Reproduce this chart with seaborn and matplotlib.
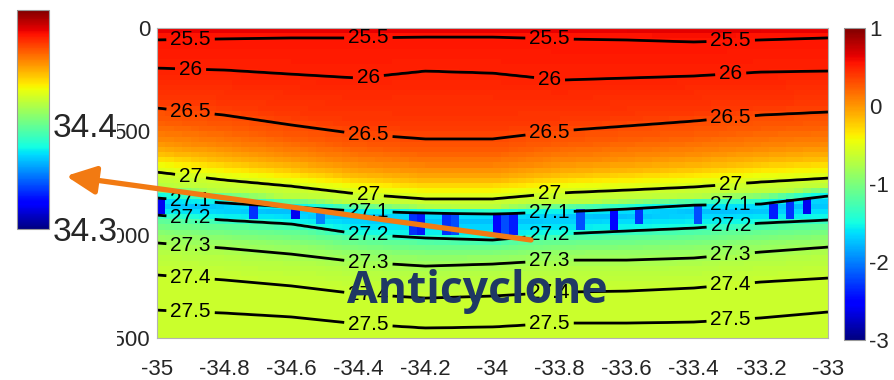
import numpy as np
import pandas as pd
import matplotlib
matplotlib.use("Agg")
import matplotlib.pyplot as plt
from matplotlib.patches import Rectangle
import seaborn as sns

# ---------------- data ----------------
lon_nodes = [-35.0, -34.8, -34.6, -34.4, -34.2, -34.0, -33.8, -33.6, -33.4, -33.2, -33.0]
iso_levels = [25.5, 26.0, 26.5, 27.0, 27.1, 27.2, 27.3, 27.4, 27.5]
depth_25_5 = [58, 53, 48, 48, 44, 44, 53, 58, 68, 58, 48]
depth_26_0 = [194, 203, 223, 242, 208, 218, 252, 242, 232, 213, 208]
depth_26_5 = [387, 421, 469, 513, 537, 537, 498, 474, 450, 421, 406]
depth_27_0 = [697, 735, 765, 803, 827, 827, 798, 784, 769, 745, 726]
depth_27_1 = [823, 847, 866, 886, 895, 900, 890, 876, 857, 852, 813]
depth_27_2 = [905, 929, 948, 997, 1016, 1026, 997, 982, 968, 944, 929]
depth_27_3 = [1040, 1065, 1094, 1132, 1152, 1142, 1123, 1123, 1113, 1084, 1060]
depth_27_4 = [1195, 1219, 1248, 1287, 1307, 1297, 1278, 1273, 1258, 1229, 1210]
depth_27_5 = [1365, 1379, 1398, 1432, 1452, 1447, 1428, 1428, 1423, 1403, 1374]
iso_depths = [depth_25_5, depth_26_0, depth_26_5, depth_27_0, depth_27_1,
              depth_27_2, depth_27_3, depth_27_4, depth_27_5]
sigma_surface = 25.35
sigma_bottom = 27.56

# salinity anomaly as read along the density axis
anom_sigma = [25.3, 25.45, 26.0, 26.4, 26.6, 26.75, 26.85, 26.93, 27.0, 27.05,
              27.07, 27.09, 27.13, 27.19, 27.22, 27.27, 27.33, 27.4, 27.56]
anom_value = [0.75, 0.55, 0.5, 0.4, 0.25, 0.05, -0.15, -0.4, -0.58, -0.7,
              -1.1, -1.5, -1.75, -1.5, -1.15, -0.9, -0.72, -0.62, -0.62]

# dark-blue patches inside the low-salinity band
spot_lons = [-34.975, -34.72, -34.595, -34.51, -34.25, -34.20, -34.15, -34.10, -33.99,
             -33.96, -33.93, -33.73, -33.65, -33.565, -33.39, -33.165, -33.12, -33.06]
spot_vals = [-2.6, -2.3, -2.6, -2.0, -2.3, -2.4, -2.3, -2.2, -2.5,
             -2.2, -2.4, -2.2, -2.5, -2.3, -2.2, -2.4, -2.3, -2.6]

label_lons = [-34.9, -34.37, -33.83, -33.29]

xtick_vals = [-35, -34.8, -34.6, -34.4, -34.2, -34, -33.8, -33.6, -33.4, -33.2, -33]
xtick_labels = ["-35", "-34.8", "-34.6", "-34.4", "-34.2", "-34", "-33.8", "-33.6", "-33.4", "-33.2", "-33"]
ytick_vals = [0, 500, 1000, 1500]
ytick_labels = ["0", "500", "1000", "1500"]
cbar_ticks = [-3, -2, -1, 0, 1]
cbar_labels = ["-3", "-2", "-1", "0", "1"]
sal_ticks = [34.3, 34.4]
sal_labels = ["34.3", "34.4"]
sal_range = [34.3, 34.51]

# ---------------- grids ----------------
dlon, ddep = 0.025, 25.0
cell_lon = -35 + dlon / 2 + dlon * np.arange(80)
cell_dep = ddep / 2 + ddep * np.arange(60)


def column_sigma(lon, depth):
    d_nodes = [0.0] + [np.interp(lon, lon_nodes, dl) for dl in iso_depths] + [1500.0]
    s_nodes = [sigma_surface] + iso_levels + [sigma_bottom]
    return np.interp(depth, d_nodes, s_nodes)


sig_cells = np.array([column_sigma(lo, cell_dep) for lo in cell_lon]).T
anom = np.interp(sig_cells, anom_sigma, anom_value)
for lo, v in zip(spot_lons, spot_vals):
    i = int((lo + 35) / dlon)
    col = sig_cells[:, i]
    mask = (col >= 27.1) & (col <= 27.18)
    if not mask.any():
        mask[np.argmin(np.abs(col - 27.13))] = True
    anom[mask, i] = v

df = pd.DataFrame(anom, index=cell_dep, columns=np.round(cell_lon, 4))

fine_lon = np.linspace(-35, -33, 201)
fine_dep = np.linspace(0, 1500, 301)
sig_fine = np.array([column_sigma(lo, fine_dep) for lo in fine_lon]).T

# ---------------- figure ----------------
sns.set_theme(style="white")
plt.rcParams["font.family"] = ["Liberation Sans", "DejaVu Sans"]

W, H = 895, 380
fig = plt.figure(figsize=(W / 100, H / 100), dpi=100)
fig.patch.set_facecolor("white")

def px_axes(x0, y0, x1, y1, **kw):
    return fig.add_axes([x0 / W, 1 - y1 / H, (x1 - x0) / W, (y1 - y0) / H], **kw)

ax = px_axes(157, 28, 828, 338)
cax = px_axes(844, 28, 865, 340)

sns.heatmap(df, ax=ax, cmap="jet", vmin=-3, vmax=1, cbar_ax=cax,
            xticklabels=False, yticklabels=False)

to_u = lambda lon: (np.asarray(lon) + 35) / dlon
to_v = lambda dep: np.asarray(dep) / ddep

U, V = np.meshgrid(to_u(fine_lon), to_v(fine_dep))
cs = ax.contour(U, V, sig_fine, levels=iso_levels, colors="black", linewidths=2.0)
positions = []
for lev, dl in zip(iso_levels, iso_depths):
    for lo in label_lons:
        positions.append((float(to_u(lo)), float(to_v(np.interp(lo, lon_nodes, dl)))))
labels = ax.clabel(cs, manual=positions, inline=True, inline_spacing=4,
                   fontsize=15, fmt=lambda v: f"{v:g}", colors="black")
for t in labels:
    t.set_rotation(0)

ax.set_xticks(to_u(xtick_vals))
ax.set_xticklabels(xtick_labels, fontsize=16, rotation=0)
ax.set_yticks(to_v(ytick_vals))
ax.set_yticklabels(ytick_labels, fontsize=16, rotation=0)
ax.tick_params(axis="x", length=0, pad=15)
ax.tick_params(axis="y", length=0, pad=5)
ax.set_xlabel("")
ax.set_ylabel("")
for s in ax.spines.values():
    s.set_visible(True)
    s.set_color("0.7")
    s.set_linewidth(0.8)

cb = ax.collections[0].colorbar
cb.set_ticks(cbar_ticks)
cb.set_ticklabels(cbar_labels)
cax.tick_params(direction="in", length=2, width=0.6, color="0.4", left=True, right=True,
                labelsize=16, pad=3)
cb.outline.set_edgecolor("0.6")
cb.outline.set_linewidth(0.8)

# white backing of the inset colour scale that hides part of the depth labels
cover = Rectangle((0, 0), 117 / W, 1, transform=fig.transFigure,
                  facecolor="white", edgecolor="none", zorder=5)
fig.add_artist(cover)

lcax = px_axes(17, 10, 49, 229, zorder=10)
sm = plt.cm.ScalarMappable(norm=plt.Normalize(*sal_range), cmap="jet")
lcb = fig.colorbar(sm, cax=lcax, ticks=sal_ticks)
lcb.ax.set_yticklabels(sal_labels, fontsize=24)
lcax.tick_params(length=0, pad=3)
lcb.outline.set_edgecolor("0.6")
lcb.outline.set_linewidth(0.8)

ov = fig.add_axes([0, 0, 1, 1], zorder=20)
ov.set_xlim(0, W)
ov.set_ylim(H, 0)
ov.axis("off")
ov.patch.set_alpha(0)
ov.annotate("", xy=(66, 176), xytext=(531, 240),
            arrowprops=dict(arrowstyle="-|>,head_length=1.8,head_width=0.85",
                            color="#F27A12", lw=3.8, shrinkA=0, shrinkB=0,
                            mutation_scale=10))
ov.text(347, 303, "Anticyclone", fontsize=32, fontweight="bold",
        family=["Open Sans", "DejaVu Sans"], color="#1F3864", va="baseline", ha="left")

fig.savefig("out.png", dpi=100)
